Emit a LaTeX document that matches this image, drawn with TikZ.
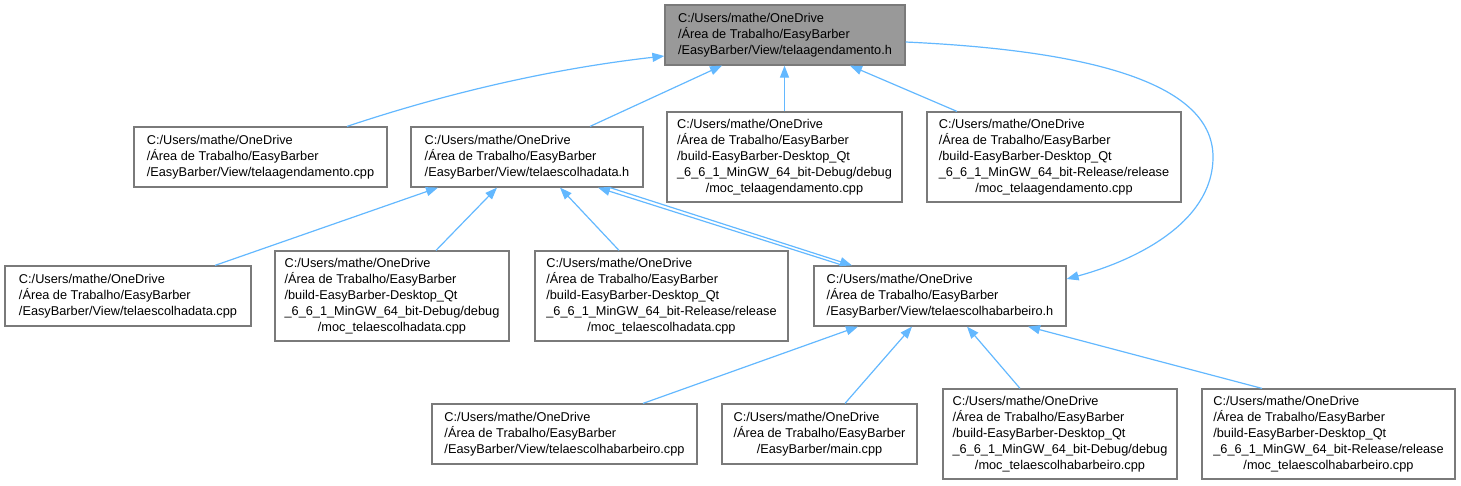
\documentclass[tikz,border=0pt]{standalone}
\usepackage{fontspec}
\setmainfont{Liberation Sans}
\usetikzlibrary{arrows.meta}
\definecolor{edgeblue}{HTML}{63B8FF}
\definecolor{boxborder}{HTML}{7A7A7A}
\definecolor{rootfill}{HTML}{999999}
\newcommand{\ftext}[2]{\begin{tabular}{@{}l@{}}#1\\\multicolumn{1}{@{}c@{}}{#2}\end{tabular}}
\tikzset{
  filebox/.style={draw=boxborder, line width=1.2pt, fill=white, rectangle, inner sep=0pt,
    font=\fontsize{12.75}{16}\selectfont, text=black},
  rootbox/.style={filebox, fill=rootfill},
  dep/.style={draw=edgeblue, line width=1.2pt, -{Triangle[length=12pt,width=9pt]}, edgeblue},
}
\begin{document}
\begin{tikzpicture}[x=1pt,y=-1pt]
\useasboundingbox (0,0) rectangle (1461,485);
% row 1
\node[rootbox, minimum width=240pt, minimum height=60pt] (root) at (785,35)
  {\ftext{C:/Users/mathe/OneDrive\\/Área de Trabalho/EasyBarber}{/EasyBarber/View/telaagendamento.h}};
% row 2
\node[filebox, minimum width=253pt, minimum height=60pt] (A) at (260.5,157)
  {\ftext{C:/Users/mathe/OneDrive\\/Área de Trabalho/EasyBarber}{/EasyBarber/View/telaagendamento.cpp}};
\node[filebox, minimum width=232pt, minimum height=60pt] (B) at (527,157)
  {\ftext{C:/Users/mathe/OneDrive\\/Área de Trabalho/EasyBarber}{/EasyBarber/View/telaescolhadata.h}};
\node[filebox, minimum width=235pt, minimum height=90pt] (C) at (784.5,157)
  {\ftext{C:/Users/mathe/OneDrive\\/Área de Trabalho/EasyBarber\\/build-EasyBarber-Desktop\_Qt\\\_6\_6\_1\_MinGW\_64\_bit-Debug/debug}{/moc\_telaagendamento.cpp}};
\node[filebox, minimum width=254pt, minimum height=90pt] (D) at (1054,157)
  {\ftext{C:/Users/mathe/OneDrive\\/Área de Trabalho/EasyBarber\\/build-EasyBarber-Desktop\_Qt\\\_6\_6\_1\_MinGW\_64\_bit-Release/release}{/moc\_telaagendamento.cpp}};
% row 3
\node[filebox, minimum width=246pt, minimum height=60pt] (E) at (128,296)
  {\ftext{C:/Users/mathe/OneDrive\\/Área de Trabalho/EasyBarber}{/EasyBarber/View/telaescolhadata.cpp}};
\node[filebox, minimum width=234pt, minimum height=90pt] (F) at (392,296)
  {\ftext{C:/Users/mathe/OneDrive\\/Área de Trabalho/EasyBarber\\/build-EasyBarber-Desktop\_Qt\\\_6\_6\_1\_MinGW\_64\_bit-Debug/debug}{/moc\_telaescolhadata.cpp}};
\node[filebox, minimum width=253pt, minimum height=90pt] (G) at (661.5,296)
  {\ftext{C:/Users/mathe/OneDrive\\/Área de Trabalho/EasyBarber\\/build-EasyBarber-Desktop\_Qt\\\_6\_6\_1\_MinGW\_64\_bit-Release/release}{/moc\_telaescolhadata.cpp}};
\node[filebox, minimum width=252pt, minimum height=60pt] (H) at (940,296)
  {\ftext{C:/Users/mathe/OneDrive\\/Área de Trabalho/EasyBarber}{/EasyBarber/View/telaescolhabarbeiro.h}};
% row 4
\node[filebox, minimum width=265pt, minimum height=60pt] (I) at (564.5,434)
  {\ftext{C:/Users/mathe/OneDrive\\/Área de Trabalho/EasyBarber}{/EasyBarber/View/telaescolhabarbeiro.cpp}};
\node[filebox, minimum width=195pt, minimum height=60pt] (J) at (819.5,434)
  {\ftext{C:/Users/mathe/OneDrive\\/Área de Trabalho/EasyBarber}{/EasyBarber/main.cpp}};
\node[filebox, minimum width=234pt, minimum height=90pt] (K) at (1060,434)
  {\ftext{C:/Users/mathe/OneDrive\\/Área de Trabalho/EasyBarber\\/build-EasyBarber-Desktop\_Qt\\\_6\_6\_1\_MinGW\_64\_bit-Debug/debug}{/moc\_telaescolhabarbeiro.cpp}};
\node[filebox, minimum width=253pt, minimum height=90pt] (L) at (1328.5,434)
  {\ftext{C:/Users/mathe/OneDrive\\/Área de Trabalho/EasyBarber\\/build-EasyBarber-Desktop\_Qt\\\_6\_6\_1\_MinGW\_64\_bit-Release/release}{/moc\_telaescolhabarbeiro.cpp}};
% edges to root
\draw[dep] ([xshift=86.5pt]A.north) .. controls (453,91) and (558,68) .. ([yshift=-21pt]root.west);
\draw[dep] ([xshift=63pt]B.north) -- ([xshift=-63pt]root.south);
\draw[dep] (C.north) -- (C.north |- root.south);
\draw[dep] ([xshift=-97pt]D.north) -- ([xshift=65pt]root.south);
\draw[dep] ([yshift=-7pt]root.east) .. controls (1080,50) and (1213,80) .. (1213,157)
  .. controls (1213,225) and (1130,262) .. ([yshift=17pt]H.east);
% edges to B
\draw[dep] ([xshift=87pt]E.north) -- ([xshift=-89pt]B.south);
\draw[dep] ([xshift=44pt]F.north) -- ([xshift=-30pt]B.south);
\draw[dep] ([xshift=-42.5pt]G.north) -- ([xshift=33pt]B.south);
\draw[dep] ([xshift=-97pt]H.north) -- ([xshift=71pt]B.south);
\draw[dep] ([xshift=83pt]B.south) -- ([xshift=-88pt]H.north);
% edges to H
\draw[dep] ([xshift=78.5pt]I.north) -- ([xshift=-82pt]H.south);
\draw[dep] ([xshift=25.5pt]J.north) -- ([xshift=-28pt]H.south);
\draw[dep] ([xshift=-40pt]K.north) -- ([xshift=27pt]H.south);
\draw[dep] ([xshift=-66.5pt]L.north) -- ([xshift=88pt]H.south);
\end{tikzpicture}
\end{document}
